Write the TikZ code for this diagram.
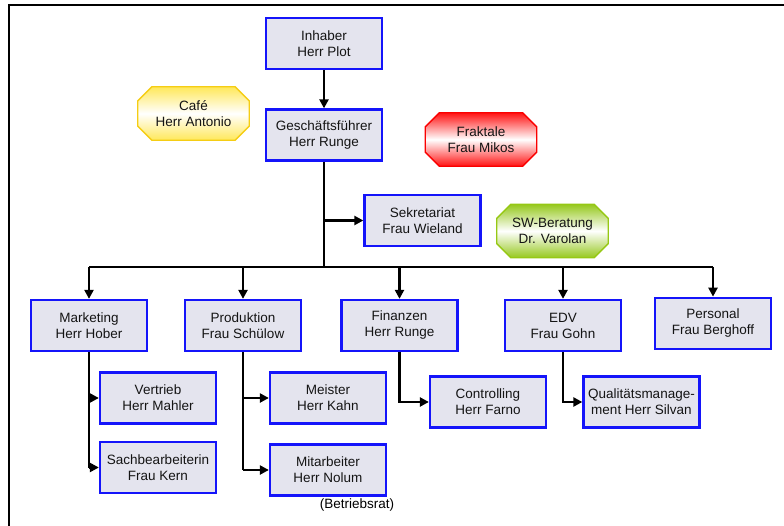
\documentclass[tikz,border=0pt]{standalone}
\usepackage{fontspec}
\setmainfont{Liberation Sans}
\usetikzlibrary{arrows.meta,calc,backgrounds}
\definecolor{boxblue}{RGB}{20,20,250}
\definecolor{boxfill}{RGB}{228,228,238}
\definecolor{cafeline}{RGB}{245,205,20}
\definecolor{cafefill}{RGB}{255,232,90}
\definecolor{frakline}{RGB}{250,0,0}
\definecolor{frakfill}{RGB}{255,20,20}
\definecolor{swline}{RGB}{150,200,20}
\definecolor{swfill}{RGB}{150,200,30}
\tikzset{
  unit/.style={draw=boxblue,line width=2.3pt,fill=boxfill,minimum width=116pt,minimum height=51pt,
    inner sep=0pt,align=center,font=\fontsize{13.5}{16}\selectfont,text=black!92},
  octnode/.style={minimum width=111pt,minimum height=53pt,inner sep=0pt,align=center,
    font=\fontsize{13.5}{16}\selectfont,text=black!92},
  conn/.style={line width=2.4pt,black},
  arr/.style={conn,-{Triangle[length=9pt,width=9pt]}},
}
\newcommand{\octshape}[3]{%
  \path[draw=#2,line width=1.3pt,top color=#3,bottom color=#3,middle color=white]
    ($(#1.north west)+(14,0)$) -- ($(#1.north east)+(-14,0)$) -- ($(#1.north east)+(0,14)$)
    -- ($(#1.south east)+(0,-14)$) -- ($(#1.south east)+(-14,0)$) -- ($(#1.south west)+(14,0)$)
    -- ($(#1.south west)+(0,-14)$) -- ($(#1.north west)+(0,14)$) -- cycle;}
\begin{document}
\begin{tikzpicture}[x=1pt,y=-1pt]
\useasboundingbox (0,0) rectangle (784,526);
\draw[line width=2pt] (9,526) -- (9,5.5) -- (784,5.5);

\node[unit] (inh) at (324,43.5) {Inhaber\\Herr Plot};
\node[unit] (gf) at (324,135) {Geschäftsführer\\Herr Runge};
\node[unit] (sek) at (422.5,220.5) {Sekretariat\\Frau Wieland};

\node[octnode] (cafe) at (193.5,113.5) {Café\\Herr Antonio};
\node[octnode] (frak) at (481,139.5) {Fraktale\\Frau Mikos};
\node[octnode] (sw) at (552.5,231) {SW-Beratung\\Dr. Varolan};
\begin{scope}[on background layer]
\octshape{cafe}{cafeline}{cafefill}
\octshape{frak}{frakline}{frakfill}
\octshape{sw}{swline}{swfill}
\end{scope}

\node[unit] (mkt) at (89,325.5) {Marketing\\Herr Hober};
\node[unit] (prod) at (243,325.5) {Produktion\\Frau Schülow};
\node[unit] (fin) at (399.5,325.5) {Finanzen\\Herr Runge};
\node[unit] (edv) at (563,325.5) {EDV\\Frau Gohn};
\node[unit] (pers) at (713,323.3) {Personal\\Frau Berghoff};

\node[unit] (vert) at (158,398) {Vertrieb\\Herr Mahler};
\node[unit] (sach) at (158,467.5) {Sachbearbeiterin\\Frau Kern};
\node[unit] (meis) at (328,398) {Meister\\Herr Kahn};
\node[unit] (mita) at (328,470) {Mitarbeiter\\Herr Nolum};
\node[font=\fontsize{13.5}{16}\selectfont,inner sep=0pt] (betr) at (357,505) {(Betriebsrat)};
\node[unit] (ctrl) at (488,402) {Controlling\\Herr Farno};
\node[unit] (qm) at (641.5,402) {Qualitätsmanage-\\ment Herr Silvan};

% connectors
\draw[arr] (inh.south) -- (gf.north);
\coordinate (bus) at (324,267);
\draw[conn] (gf.south) -- (bus);
\draw[arr] (gf.south |- sek.west) -- (sek.west);
\draw[conn] (mkt.north |- bus) -- (pers.north |- bus);
\foreach \n in {mkt,prod,fin,edv,pers}
  \draw[arr] (\n.north |- bus) -- (\n.north);

\draw[conn] (mkt.south) -- (mkt.south |- sach.west);
\draw[arr] (mkt.south |- vert.west) -- (vert.west);
\draw[arr] (mkt.south |- sach.west) -- (sach.west);

\draw[conn] (prod.south) -- (prod.south |- mita.west);
\draw[arr] (prod.south |- meis.west) -- (meis.west);
\draw[arr] (prod.south |- mita.west) -- (mita.west);

\draw[arr] (fin.south) |- (ctrl.west);
\draw[arr] (edv.south) |- (qm.west);
\end{tikzpicture}
\end{document}
